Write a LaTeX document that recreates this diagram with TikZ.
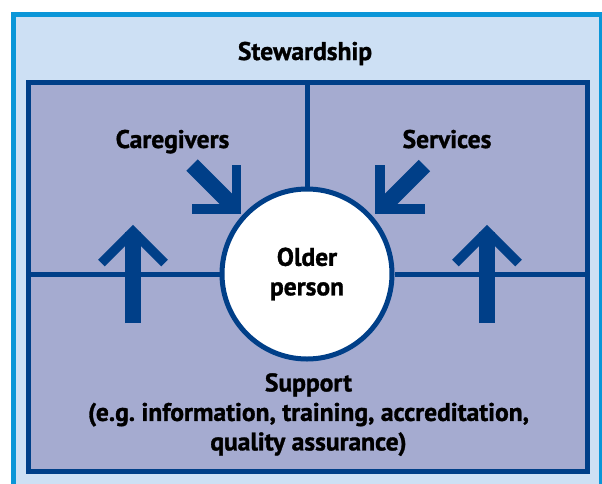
\documentclass[tikz,border=0pt]{standalone}
\usepackage{fontspec}
\setmainfont{PT Sans}[BoldFeatures={FakeBold=1.2}]
\frenchspacing
\usetikzlibrary{calc}
\tikzset{
  every node/.style={font=\fontsize{25.5}{29.5}\selectfont\bfseries, inner sep=0pt},
  rule/.style={line width=5, draw=darkcol},
  shaft/.style={line width=16, draw=darkcol},
  barb/.style={line width=9.5, draw=darkcol},
}

\begin{document}
\begin{tikzpicture}[x=1pt, y=-1pt]
  % Fixed bounding box (pixels of the scan).
  \path[use as bounding box] (0,0) rectangle (602,483);

  % Colors.
  \definecolor{outerfill}{HTML}{CDE0F4}
  \definecolor{edgecol}{HTML}{0A96D8}
  \definecolor{innerfill}{HTML}{A5ABD0}
  \definecolor{darkcol}{HTML}{003F88}

  % Stewardship band, cut off at the bottom.
  \begin{scope}
    \clip (0,0) rectangle (602,483);
    \draw[line width=5, draw=edgecol, fill=outerfill] (13.5,14.5) rectangle (601,500);
  \end{scope}

  % Inner frame.
  \draw[rule, fill=innerfill] (28.5,82.5) rectangle (587.5,471);

  % Older person in the middle.
  \node[circle, draw=darkcol, line width=5, fill=white, minimum size=170,
        align=center] (core) at (307,274) {Older\\person};

  % Dividing lines.
  \coordinate (top) at (307,82.5);
  \coordinate (west) at (28.5,274);
  \coordinate (east) at (587.5,274);
  \draw[rule] (top) -- (core);
  \draw[rule] (west) -- (core);
  \draw[rule] (core) -- (east);

  % Upward arrows.
  \foreach \x in {133,487} {
    \draw[shaft] (\x,323) -- (\x,232);
    \draw[barb] (\x-31.5,263) -- (\x,231.5) -- (\x+31.5,263);
  }

  % Arrows pointing at the older person.
  \draw[shaft] (192,165) -- (232,205);
  \draw[barb] (236.5,165) -- (236.5,209) -- (192,209);
  \draw[shaft] (424.5,165.5) -- (384,206);
  \draw[barb] (380,165) -- (380,209) -- (425,209);

  % Labels.
  \node[anchor=base] (stew) at (305,60) {Stewardship};
  \node[anchor=base] (care) at (172.5,148) {Caregivers};
  \node[anchor=base] (serv) at (447,148) {Services};
  \node[anchor=north, align=center] (supp) at (308.5,373)
    {Support\\(e.g. information, training, accreditation,\\quality assurance)};
\end{tikzpicture}
\end{document}
